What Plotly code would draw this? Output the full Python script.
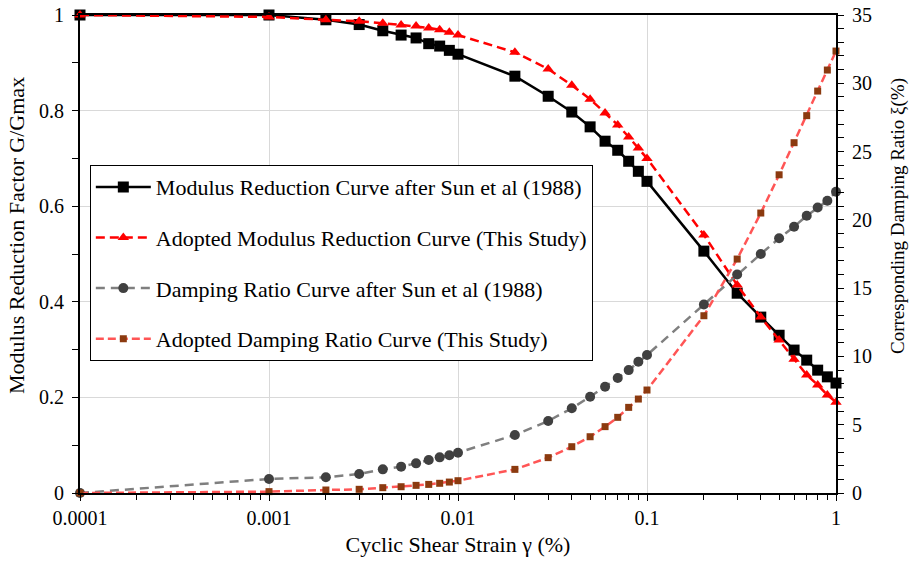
import plotly.graph_objects as go

strain = [0.0001, 0.001, 0.002, 0.003, 0.004, 0.005, 0.006, 0.007, 0.008, 0.009,
          0.01, 0.02, 0.03, 0.04, 0.05, 0.06, 0.07, 0.08, 0.09,
          0.1, 0.2, 0.3, 0.4, 0.5, 0.6, 0.7, 0.8, 0.9, 1.0]

mr_sun = [1.0, 1.0, 0.99, 0.98, 0.967, 0.958, 0.952, 0.94, 0.935, 0.926,
          0.918, 0.872, 0.83, 0.797, 0.766, 0.736, 0.717, 0.694, 0.673,
          0.652, 0.506, 0.418, 0.368, 0.33, 0.299, 0.278, 0.257, 0.243, 0.23]

mr_adopted = [1.0, 0.996, 0.99, 0.987, 0.983, 0.979, 0.977, 0.973, 0.969, 0.964,
              0.958, 0.922, 0.887, 0.853, 0.824, 0.795, 0.77, 0.745, 0.722,
              0.70, 0.54, 0.435, 0.368, 0.32, 0.28, 0.247, 0.226, 0.205, 0.19]

damp_sun = [0.0, 1.03, 1.15, 1.39, 1.73, 1.93, 2.17, 2.42, 2.61, 2.76,
            2.95, 4.25, 5.27, 6.2, 7.05, 7.78, 8.42, 9.0, 9.61,
            10.1, 13.8, 16.0, 17.5, 18.65, 19.5, 20.3, 20.9, 21.4, 22.06]

damp_adopted = [0.0, 0.1, 0.22, 0.27, 0.39, 0.46, 0.56, 0.63, 0.71, 0.8,
                0.9, 1.73, 2.59, 3.39, 4.12, 4.86, 5.54, 6.27, 6.88,
                7.54, 12.98, 17.13, 20.5, 23.3, 25.65, 27.63, 29.43, 30.97, 32.36]

names = ["Modulus Reduction Curve after Sun et al (1988)",
         "Adopted Modulus Reduction Curve (This Study)",
         "Damping Ratio Curve after Sun et al (1988)",
         "Adopted Damping Ratio Curve (This Study)"]

x_tickvals = [0.0001, 0.001, 0.01, 0.1, 1]
x_ticktext = ["0.0001", "0.001", "0.01", "0.1", "1"]

x_title = "Cyclic Shear Strain γ (%)"
y_title = "Modulus Reduction Factor G/Gmax"
y2_title = "Corresponding Damping Ratio ξ(%)"

FONT = "Times New Roman, Liberation Serif, DejaVu Serif, serif"

fig = go.Figure()
fig.add_trace(go.Scatter(x=strain, y=mr_sun, name=names[0], mode="lines+markers",
                         line=dict(color="black", width=2.5),
                         marker=dict(symbol="square", size=11, color="black"),
                         legendgroup="a", cliponaxis=False))
fig.add_trace(go.Scatter(x=strain, y=mr_adopted, name=names[1], mode="lines+markers",
                         line=dict(color="#FF0000", width=2.5, dash="9px,5px"),
                         marker=dict(symbol="triangle-up", size=10, color="#FF0000"),
                         legendgroup="b", cliponaxis=False))
fig.add_trace(go.Scatter(x=strain, y=damp_sun, name=names[2], mode="lines+markers", yaxis="y2",
                         line=dict(color="#7F7F7F", width=2.5, dash="9px,6px"),
                         marker=dict(symbol="circle", size=10, color="#404040"),
                         legendgroup="c", cliponaxis=False))
fig.add_trace(go.Scatter(x=strain, y=damp_adopted, name=names[3], mode="lines+markers", yaxis="y2",
                         line=dict(color="#FF5555", width=2.5, dash="8px,4px"),
                         marker=dict(symbol="square", size=7, color="#8B3A0F"),
                         legendgroup="d", cliponaxis=False))

minor_x = [k * 10.0 ** e for e in range(-4, 0) for k in range(2, 10)]

fig.update_layout(
    width=911, height=561,
    margin=dict(l=80, r=75, t=15, b=68, autoexpand=False),
    paper_bgcolor="white", plot_bgcolor="white",
    font=dict(family=FONT, size=20, color="black"),
    showlegend=True,
    legend=dict(x=0.013, y=0.686, xanchor="left", yanchor="top",
                bgcolor="white", bordercolor="black", borderwidth=1,
                font=dict(family=FONT, size=22, color="black"),
                tracegroupgap=19, itemwidth=55),
    xaxis=dict(type="log", range=[-4, 0], tickmode="array",
               tickvals=x_tickvals, ticktext=x_ticktext,
               showgrid=True, gridcolor="#D9D9D9", gridwidth=1,
               showline=True, linecolor="black", linewidth=2, mirror=True,
               ticks="outside", ticklen=6, tickcolor="black",
               minor=dict(tickmode="array", tickvals=minor_x, ticks="outside",
                          ticklen=5, tickcolor="black", showgrid=False),
               title=dict(text=x_title, font=dict(size=22), standoff=9),
               automargin=False, zeroline=False),
    yaxis=dict(range=[0, 1], dtick=0.2, tick0=0,
               showgrid=True, gridcolor="#D9D9D9", gridwidth=1,
               showline=True, linecolor="black", linewidth=2,
               ticks="outside", ticklen=6, tickcolor="black", ticklabelstandoff=4,
               minor=dict(dtick=0.1, ticks="outside", ticklen=6, tickcolor="black", showgrid=False),
               automargin=False, zeroline=False),
    yaxis2=dict(range=[0, 35], dtick=5, tick0=0, overlaying="y", side="right",
                showgrid=False, showline=True, linecolor="black", linewidth=2,
                ticks="outside", ticklen=6, tickcolor="black", ticklabelstandoff=4,
                minor=dict(dtick=1, ticks="outside", ticklen=6, tickcolor="black"),
                automargin=False, zeroline=False),
    annotations=[
        dict(text=y_title, xref="paper", yref="paper", x=-0.0833, y=0.5377,
             textangle=-90, showarrow=False, xanchor="center", yanchor="middle",
             font=dict(family=FONT, size=22, color="black")),
        dict(text=y2_title, xref="paper", yref="paper", x=1.082, y=0.5795,
             textangle=-90, showarrow=False, xanchor="center", yanchor="middle",
             font=dict(family=FONT, size=19, color="black")),
    ],
)

fig.write_html("out.html")
